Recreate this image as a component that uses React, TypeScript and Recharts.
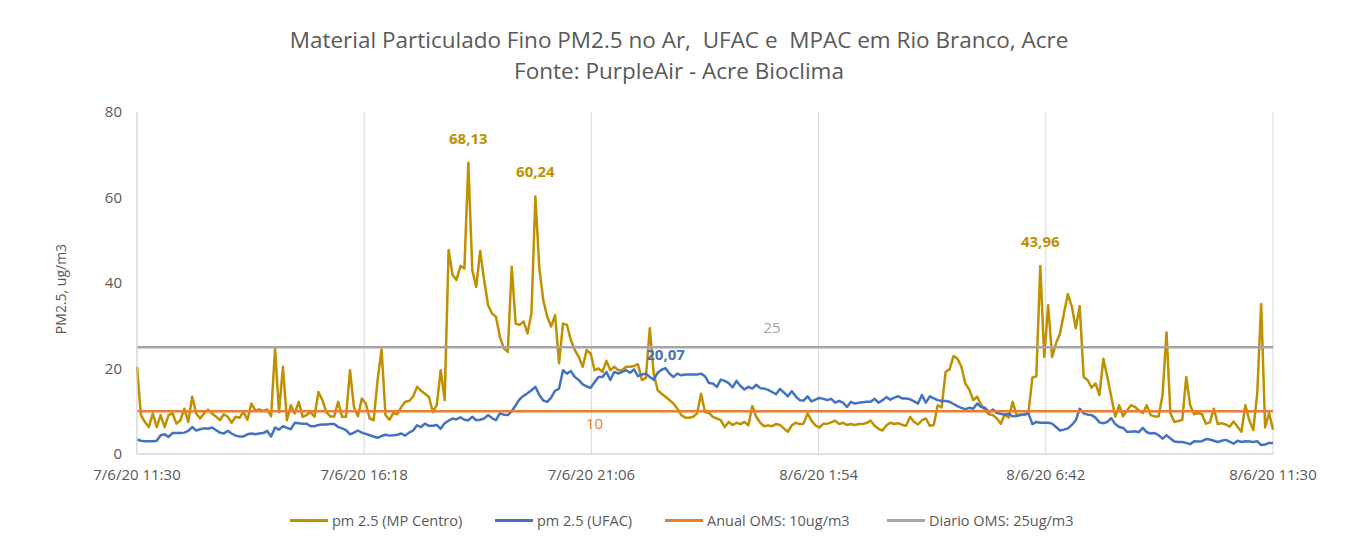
import { LineChart, Line, XAxis, YAxis, CartesianGrid, LabelList } from 'recharts'

// PM2.5 readings, one every 5 minutes from 7/6/20 11:30 to 8/6/20 11:30
const mpCentro = [
  20.4, 9.1, 7.5, 6.3, 9.5, 6.3, 9.1, 6.3, 9.1, 9.5, 7.1, 7.9, 10.6, 7.5, 13.4, 9.5, 8.3, 9.5, 10.4, 9.5,
  8.8, 7.9, 9.3, 8.7, 7.3, 8.7, 8.5, 9.8, 8.0, 11.8, 10.2, 10.4, 10.1, 10.4, 8.8, 24.7, 9.8, 20.4, 7.9, 11.4,
  9.5, 12.2, 8.7, 9.1, 9.8, 8.7, 14.5, 12.6, 9.8,
  8.8, 8.8, 12.2, 8.7, 8.7, 19.6, 11.0, 8.8, 13.0, 11.8, 8.3, 7.9, 17.3, 24.5, 9.1, 8.0, 9.6, 9.3, 11.0, 12.2,
  12.4, 13.4, 15.7, 14.8, 14.1, 13.4, 9.8, 11.5, 19.6, 12.6, 47.7, 41.9, 40.7, 44.0, 43.4, 68.13, 43.0, 39.1, 47.5, 40.7,
  34.8, 32.9, 32.1, 27.4, 24.7, 23.9,
  43.8, 30.5, 30.2, 31.0, 28.2, 32.9, 60.24, 43.4, 36.0, 32.1, 29.8, 32.5, 21.2, 30.5, 30.2, 26.6, 24.3, 22.7, 20.4, 24.3,
  23.5, 19.6, 20.0, 19.2, 21.8, 19.6, 20.4, 19.6, 19.6, 20.4, 20.4, 20.6, 21.0, 17.3, 17.8, 29.4, 18.8, 14.9, 14.1, 13.4,
  12.6, 11.8, 10.6, 9.1, 8.5, 8.5, 8.7, 9.5,
  14.1, 9.8, 9.6, 8.7, 8.3, 7.9, 6.3, 7.5, 6.8, 7.3, 7.0, 7.5, 6.7, 11.2, 8.7, 7.3, 6.5, 6.7, 6.5, 7.0,
  6.8, 6.0, 5.2, 6.7, 7.3, 7.0, 7.1, 9.5, 7.8, 6.7, 6.2, 7.1, 7.1, 7.4, 7.8, 7.0, 7.3, 6.8, 7.0, 6.8,
  7.0, 7.0, 7.3, 7.8, 6.6, 5.9, 5.5, 6.7,
  7.3, 7.0, 7.2, 6.8, 6.6, 8.7, 7.5, 6.9, 7.9, 8.3, 6.6, 6.8, 11.4, 10.9, 19.2, 19.8, 22.9, 22.3, 20.4, 16.5,
  15.1, 12.6, 13.4, 11.5, 10.2, 9.3, 9.1, 8.3, 7.1, 9.3, 8.5, 12.2, 9.1, 9.3, 9.1, 9.6, 17.9, 18.2, 43.96, 22.7,
  34.8, 22.7, 25.9, 28.2, 32.9, 37.4, 34.5, 29.4, 34.6,
  18.0, 17.3, 15.5, 16.5, 13.8, 22.3, 18.0, 13.4, 8.7, 11.4, 8.8, 10.2, 11.4, 11.0, 10.2, 9.6, 11.4, 9.1, 8.8, 8.8,
  13.8, 28.4, 9.5, 7.5, 7.7, 8.0, 18.0, 11.4, 9.3, 9.6, 9.3, 7.1, 7.4, 10.6, 7.0, 7.2, 6.9, 6.4, 7.6, 6.4,
  5.2, 11.4, 7.9, 5.6, 14.1, 35.1, 6.2, 9.6, 5.7,
]

const ufac = [
  3.4, 3.1, 3.0, 3.0, 3.0, 3.1, 4.4, 4.6, 4.0, 4.9, 4.9, 4.9, 5.0, 5.4, 6.3, 5.5, 5.8, 6.0, 5.9, 6.2,
  5.6, 5.0, 4.8, 5.4, 4.8, 4.3, 4.1, 4.1, 4.6, 4.8, 4.6, 4.8, 4.9, 5.4, 4.1, 6.2, 5.7, 6.5, 6.1, 5.8,
  7.3, 7.2, 7.1, 7.1, 6.5, 6.5, 6.8, 6.9, 6.9,
  7.0, 7.0, 6.3, 6.0, 5.6, 4.6, 5.0, 5.5, 5.0, 4.7, 4.4, 4.1, 3.8, 4.2, 4.5, 4.3, 4.4, 4.5, 4.8, 4.3,
  5.0, 5.5, 6.7, 6.3, 7.1, 6.6, 6.6, 6.8, 5.9, 7.2, 7.8, 8.3, 8.1, 8.6, 8.0, 7.9, 8.7, 7.9, 8.0, 8.3,
  9.1, 8.4, 7.9, 9.5, 9.2, 9.1,
  10.0, 11.4, 12.8, 13.6, 14.2, 14.9, 15.7, 13.8, 12.5, 12.2, 13.2, 14.8, 15.3, 19.6, 18.8, 19.4, 18.0, 17.3, 16.3, 15.8,
  15.5, 16.8, 18.0, 18.0, 19.2, 17.3, 19.2, 18.8, 19.2, 19.6, 19.0, 19.8, 18.2, 18.6, 18.8, 18.0, 17.4, 19.0, 19.7, 20.07,
  18.8, 18.0, 18.8, 18.4, 18.6, 18.6, 18.6, 18.6,
  18.8, 18.2, 16.6, 16.5, 15.7, 17.4, 17.1, 16.6, 15.6, 17.1, 15.9, 15.1, 15.7, 15.3, 16.2, 15.4, 15.3, 15.0, 14.5, 14.0,
  15.2, 14.4, 13.5, 14.7, 13.5, 12.6, 12.5, 13.5, 12.3, 12.7, 13.1, 12.9, 12.6, 12.9, 12.0, 12.4, 12.0, 11.0, 12.2, 11.8,
  12.0, 12.1, 12.2, 12.2, 12.9, 12.0, 12.6, 13.3,
  12.7, 13.2, 13.5, 13.0, 13.0, 12.8, 12.3, 11.8, 13.8, 12.0, 13.5, 13.0, 12.6, 12.4, 12.4, 12.2, 11.7, 11.2, 10.8, 10.5,
  10.8, 10.6, 11.8, 11.0, 10.8, 9.8, 10.4, 9.6, 9.4, 9.2, 9.4, 8.8, 8.9, 9.1, 9.3, 9.5, 7.0, 7.5, 7.3, 7.3,
  7.3, 7.1, 6.3, 5.5, 5.7, 6.0, 6.8, 7.9, 10.6,
  9.5, 9.2, 9.1, 8.5, 7.4, 7.2, 7.5, 8.4, 7.0, 6.3, 6.1, 5.2, 5.2, 5.3, 5.1, 6.1, 5.1, 4.8, 4.9, 4.4,
  3.6, 4.4, 3.6, 2.9, 2.8, 2.8, 2.6, 2.3, 3.0, 2.9, 3.0, 3.5, 3.4, 3.1, 2.8, 3.1, 3.3, 2.9, 2.4, 3.1,
  2.8, 3.0, 2.9, 2.8, 3.0, 2.1, 2.2, 2.6, 2.6,
]

const anualOms = 10
const diarioOms = 25

// which samples carry a data label
const mpLabelIdx = [84, 101, 229]
const ufacLabelIdx = [134]
const anualLabelIdx = [116]
const diarioLabelIdx = [161]

const timeTicks = [0, 288, 576, 864, 1152, 1440]
const timeLabels = ['7/6/20 11:30', '7/6/20 16:18', '7/6/20 21:06', '8/6/20 1:54', '8/6/20 6:42', '8/6/20 11:30']
const yTicks = [0, 20, 40, 60, 80]

const COLORS = { mp: '#BF9000', ufac: '#4472C4', anual: '#ED7D31', diario: '#A5A5A5', text: '#595959' }
const FONT = "'Open Sans', sans-serif"

const data = mpCentro.map((v, i) => ({
  t: i * 5,
  mp: v,
  ufac: ufac[i],
  anual: anualOms,
  diario: diarioOms,
  mpLabel: mpLabelIdx.includes(i) ? v : null,
  ufacLabel: ufacLabelIdx.includes(i) ? ufac[i] : null,
  anualLabel: anualLabelIdx.includes(i) ? anualOms : null,
  diarioLabel: diarioLabelIdx.includes(i) ? diarioOms : null,
}))

const fmt = (v: number) => String(v).replace('.', ',')

const makeLabel = (color: string, dy: number, bold = true) => (props: any) => {
  const { x, y, value } = props
  if (value == null || x == null) return null
  return (
    <text x={x} y={y + dy} fill={color} textAnchor="middle" fontSize={15}
      fontWeight={bold ? 700 : 400} fontFamily={FONT}>
      {fmt(value)}
    </text>
  )
}

const legendItems = [
  { name: 'pm 2.5 (MP Centro)', color: COLORS.mp, left: 290 },
  { name: 'pm 2.5 (UFAC)', color: COLORS.ufac, left: 495 },
  { name: 'Anual OMS: 10ug/m3', color: COLORS.anual, left: 665 },
  { name: 'Diario OMS: 25ug/m3', color: COLORS.diario, left: 887 },
]

export default function App() {
  return (
    <div style={{ position: 'absolute', left: 0, top: 0, width: 1354, height: 545, background: '#fff', fontFamily: FONT }}>
      <div style={{ position: 'absolute', left: 0, top: 24, width: 1358, textAlign: 'center', color: COLORS.text, fontSize: 22.5, lineHeight: '31px' }}>
        <div>Material Particulado Fino PM2.5 no Ar,&nbsp; UFAC e&nbsp; MPAC em Rio Branco, Acre</div>
        <div>Fonte: PurpleAir - Acre Bioclima</div>
      </div>
      <LineChart width={1354} height={545} data={data} margin={{ top: 112, right: 81, bottom: 61, left: 0 }}>
        <CartesianGrid horizontal={false} stroke="#D9D9D9" />
        <XAxis
          dataKey="t"
          type="number"
          domain={[0, 1440]}
          ticks={timeTicks}
          tickFormatter={(v: number) => timeLabels[timeTicks.indexOf(v)] ?? ''}
          tick={{ fill: COLORS.text, fontSize: 15, fontFamily: FONT }}
          tickLine={false}
          tickMargin={9}
          axisLine={{ stroke: '#BFBFBF' }}
          height={30}
          interval={0}
        />
        <YAxis
          domain={[0, 80]}
          ticks={yTicks}
          tick={{ fill: COLORS.text, fontSize: 15, fontFamily: FONT }}
          tickLine={false}
          tickMargin={9}
          axisLine={{ stroke: '#D9D9D9' }}
          width={137}
          label={{ value: 'PM2.5, ug/m3', angle: -90, position: 'insideLeft', dx: 56, dy: 6, fill: COLORS.text, fontSize: 14, fontFamily: FONT, style: { textAnchor: 'middle' } }}
        />
        <Line dataKey="mp" stroke={COLORS.mp} strokeWidth={2.5} dot={false} isAnimationActive={false} strokeLinejoin="round">
          <LabelList dataKey="mpLabel" content={makeLabel(COLORS.mp, -19)} />
        </Line>
        <Line dataKey="ufac" stroke={COLORS.ufac} strokeWidth={2.5} dot={false} isAnimationActive={false} strokeLinejoin="round">
          <LabelList dataKey="ufacLabel" content={makeLabel(COLORS.ufac, -8)} />
        </Line>
        <Line dataKey="anual" stroke={COLORS.anual} strokeWidth={2.5} dot={false} isAnimationActive={false}>
          <LabelList dataKey="anualLabel" content={makeLabel(COLORS.anual, 18, false)} />
        </Line>
        <Line dataKey="diario" stroke={COLORS.diario} strokeWidth={2.5} dot={false} isAnimationActive={false}>
          <LabelList dataKey="diarioLabel" content={makeLabel(COLORS.diario, -14, false)} />
        </Line>
      </LineChart>
      {legendItems.map((it) => (
        <div key={it.name} style={{ position: 'absolute', left: it.left, top: 511, display: 'flex', alignItems: 'center', color: COLORS.text, fontSize: 14.5, whiteSpace: 'nowrap' }}>
          <span style={{ display: 'inline-block', width: 38, height: 3, background: it.color, marginRight: 4 }} />
          <span>{it.name}</span>
        </div>
      ))}
    </div>
  )
}
